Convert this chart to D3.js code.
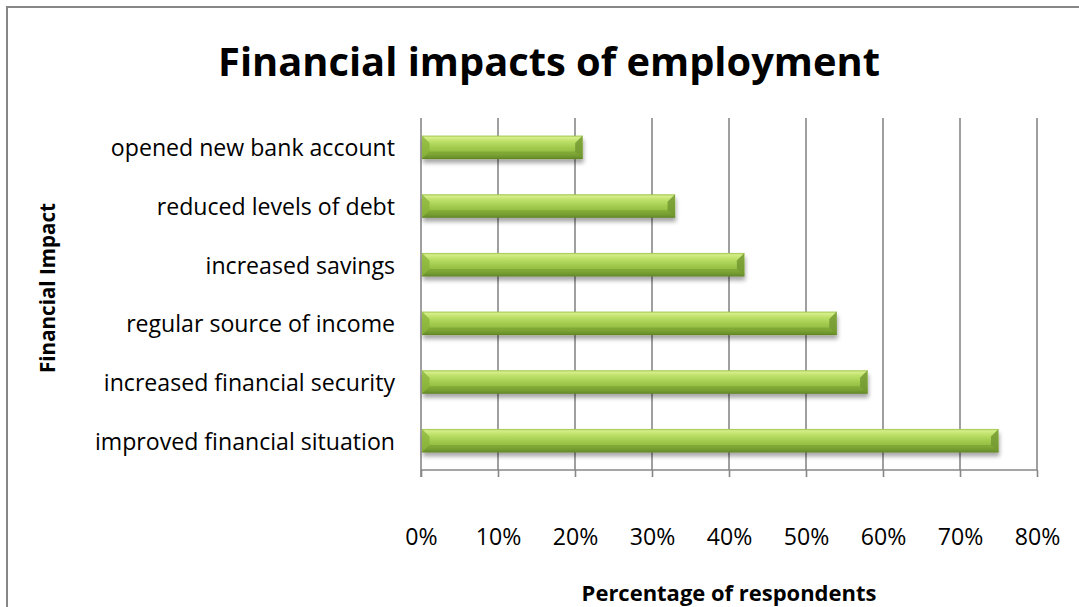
<!DOCTYPE html>
<html>
<head>
<meta charset="utf-8">
<script src="https://cdn.jsdelivr.net/npm/d3@7"></script>
<style>
  html, body { margin: 0; padding: 0; background: #fff; }
  svg { display: block; }
  text { font-family: "Open Sans", "DejaVu Sans", sans-serif; fill: #000; }
</style>
</head>
<body>
<svg id="chart" width="1079" height="607"></svg>
<script>
// Survey results: share of respondents reporting each financial impact
const categories = [
  "opened new bank account",
  "reduced levels of debt",
  "increased savings",
  "regular source of income",
  "increased financial security",
  "improved financial situation"
];
const values = [21, 33, 42, 54, 58, 75];
const tickValues = [0, 10, 20, 30, 40, 50, 60, 70, 80];
const chartTitle = "Financial impacts of employment";
const xTitle = "Percentage of respondents";
const yTitle = "Financial Impact";

const svg = d3.select("#chart");
const W = 1079, H = 607;
const margin = { left: 421, right: 42, top: 118, bottom: 137 };
const plotW = W - margin.left - margin.right;
const plotH = H - margin.top - margin.bottom;

// Scale a text element's font size so it spans the given width
function fitWidth(sel, width) {
  const node = sel.node();
  const size = parseFloat(sel.attr("font-size"));
  const w = node.getComputedTextLength();
  sel.attr("font-size", (size * width / w).toFixed(2));
}

const defs = svg.append("defs");

// cylinder-like shading across the bar thickness
const grad = defs.append("linearGradient")
  .attr("id", "barFill").attr("x1", 0).attr("y1", 0).attr("x2", 0).attr("y2", 1);
[
  [0, "#9cc448"], [0.08, "#d6ee8a"], [0.22, "#c0e26c"], [0.5, "#a3cc4f"],
  [0.8, "#8cb73c"], [0.92, "#789f33"], [1, "#5f8228"]
].forEach(([o, c]) => grad.append("stop").attr("offset", o).attr("stop-color", c));

const shadow = defs.append("filter").attr("id", "barShadow")
  .attr("x", "-5%").attr("y", "-30%").attr("width", "110%").attr("height", "190%");
shadow.append("feGaussianBlur").attr("in", "SourceAlpha").attr("stdDeviation", 2.2).attr("result", "b");
shadow.append("feOffset").attr("in", "b").attr("dx", 1).attr("dy", 3.5).attr("result", "o");
shadow.append("feComponentTransfer").attr("in", "o").attr("result", "s")
  .append("feFuncA").attr("type", "linear").attr("slope", 0.35);
const merge = shadow.append("feMerge");
merge.append("feMergeNode").attr("in", "s");
merge.append("feMergeNode").attr("in", "SourceGraphic");

// outer frame
svg.append("rect")
  .attr("x", 7).attr("y", 7).attr("width", 1200).attr("height", 800)
  .attr("fill", "#fff").attr("stroke", "#878787").attr("stroke-width", 2);

const x = d3.scaleLinear().domain([0, 80]).range([0, plotW]);
const y = d3.scaleBand().domain(categories).range([0, plotH]).paddingInner(0.6).paddingOuter(0.3);

const g = svg.append("g").attr("transform", `translate(${margin.left},${margin.top})`);

// vertical gridlines
g.append("g").selectAll("line")
  .data(tickValues.filter(d => d > 0))
  .join("line")
  .attr("x1", d => x(d)).attr("x2", d => x(d))
  .attr("y1", 0).attr("y2", plotH)
  .attr("stroke", "#878787").attr("stroke-width", 1.6);

// bottom axis with tick marks hanging below the baseline
const xAxis = d3.axisBottom(x).tickValues(tickValues).tickFormat(d => d + "%")
  .tickSize(7).tickPadding(52);
const ax = g.append("g").attr("transform", `translate(0,${plotH})`).call(xAxis);
ax.select(".domain").attr("stroke", "#878787").attr("stroke-width", 1.6).attr("d", `M0,0H${plotW}`);
ax.selectAll(".tick line").attr("stroke", "#878787").attr("stroke-width", 1.6);
ax.selectAll(".tick text").attr("font-size", 19.5).attr("fill", "#000")
  .attr("font-family", "'Open Sans', sans-serif");

// left axis line
g.append("line").attr("x1", 0).attr("x2", 0).attr("y1", 0).attr("y2", plotH + 7)
  .attr("stroke", "#878787").attr("stroke-width", 1.6);

// bars
const bars = g.append("g").selectAll("g.bar")
  .data(categories.map((c, i) => ({ c, v: values[i] })))
  .join("g").attr("class", "bar")
  .attr("transform", d => `translate(1,${y(d.c)})`);

const bh = y.bandwidth();
bars.append("rect")
  .attr("width", d => x(d.v) - 1).attr("height", bh)
  .attr("fill", "url(#barFill)").attr("filter", "url(#barShadow)");

// bevelled ends
const bev = bh * 0.32;
bars.append("path")
  .attr("d", d => `M0,0L${bev},${bev}L${bev},${bh - bev}L0,${bh}Z`)
  .attr("fill", "#88b23a").attr("opacity", 0.75);
bars.append("path")
  .attr("d", d => { const w = x(d.v) - 1; return `M${w},0L${w - bev},${bev}L${w - bev},${bh - bev}L${w},${bh}Z`; })
  .attr("fill", "#6f9530").attr("opacity", 0.8);
bars.append("path")
  .attr("d", d => { const w = x(d.v) - 1; return `M${bev},${bh - bev}L${w - bev},${bh - bev}L${w},${bh}L0,${bh}Z`; })
  .attr("fill", "#5f8326").attr("opacity", 0.35);

// category labels
const labels = g.append("g").selectAll("text")
  .data(categories).join("text")
  .attr("x", -26).attr("y", d => y(d) + bh / 2)
  .attr("text-anchor", "end").attr("dominant-baseline", "central")
  .attr("font-size", 20).text(d => d);
// size the longest label to its span, and reuse that size for all of them
const longest = labels.filter(d => d === "improved financial situation");
fitWidth(longest, 300);
labels.attr("font-size", longest.attr("font-size"));
ax.selectAll(".tick text").attr("font-size", longest.attr("font-size"));

// titles
const t = svg.append("text").attr("x", 549).attr("y", 60)
  .attr("text-anchor", "middle").attr("dominant-baseline", "central")
  .attr("font-weight", "bold").attr("font-size", 36).text(chartTitle);
fitWidth(t, 662);

const xt = svg.append("text").attr("x", 729).attr("y", 592)
  .attr("text-anchor", "middle").attr("dominant-baseline", "central")
  .attr("font-weight", "bold").attr("font-size", 18).text(xTitle);
fitWidth(xt, 295);

const yt = svg.append("text").attr("transform", "translate(47,288) rotate(-90)")
  .attr("text-anchor", "middle").attr("dominant-baseline", "central")
  .attr("font-weight", "bold").attr("font-size", 18).text(yTitle);
fitWidth(yt, 170);
</script>
</body>
</html>
